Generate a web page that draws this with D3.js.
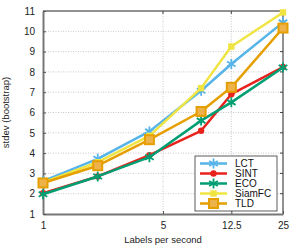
<!DOCTYPE html>
<html>
<head>
<meta charset="utf-8">
<script src="https://cdn.jsdelivr.net/npm/d3@7"></script>
<style>
  body { margin: 0; background: #fff; }
  text { font-family: "Liberation Sans", Arial, sans-serif; }
</style>
</head>
<body>
<div id="chart"></div>
<script>
// labels per second (25 fps divided by the label interval)
var labelRates = [25 / 25, 25 / 12, 25 / 6, 25 / 3, 25 / 2, 25 / 1];
var xTicks = [1, 5, 12.5, 25];
var yTicks = [1, 2, 3, 4, 5, 6, 7, 8, 9, 10, 11];

var trackers = ["LCT", "SINT", "ECO", "SiamFC", "TLD"];
var lctValues = [2.62, 3.72, 5.07, 7.07, 8.39, 10.44];
var sintValues = [2.02, 2.85, 3.9, 5.1, 6.9, 8.24];
var ecoValues = [1.97, 2.85, 3.8, 5.6, 6.5, 8.22];
var siamValues = [2.55, 3.55, 4.85, 7.2, 9.25, 10.93];
var tldValues = [2.53, 3.38, 4.66, 6.05, 7.24, 10.16];

var colors = ["#56B4E9", "#E8221C", "#009E73", "#F0E442", "#E69F00"];

var series = [lctValues, sintValues, ecoValues, siamValues, tldValues].map(function(v, i) {
    return { name: trackers[i], color: colors[i], values: v };
});

var width = 300, height = 247;
var margin = { top: 11, right: 17, bottom: 33, left: 43 };
var innerW = width - margin.left - margin.right;
var innerH = height - margin.top - margin.bottom;

var svg = d3.select("#chart").append("svg")
    .attr("width", width)
    .attr("height", height);

var g = svg.append("g").attr("transform", "translate(" + margin.left + "," + margin.top + ")");

var x = d3.scaleLog().domain([1, 25]).range([0, innerW]);
var y = d3.scaleLinear().domain([1, 11]).range([innerH, 0]);

// dotted grid
g.selectAll(".hgrid").data(yTicks.slice(1, -1)).enter().append("line")
    .attr("x1", 0).attr("x2", innerW)
    .attr("y1", function(d) { return y(d); }).attr("y2", function(d) { return y(d); })
    .attr("stroke", "#bbb").attr("stroke-width", 0.8).attr("stroke-dasharray", "1,1.5");
g.selectAll(".vgrid").data(xTicks.slice(1, -1)).enter().append("line")
    .attr("y1", 0).attr("y2", innerH)
    .attr("x1", function(d) { return x(d); }).attr("x2", function(d) { return x(d); })
    .attr("stroke", "#bbb").attr("stroke-width", 0.8).attr("stroke-dasharray", "1,1.5");

// box: top and right thin black
g.append("line").attr("x1", 0).attr("x2", innerW).attr("y1", 0).attr("y2", 0)
    .attr("stroke", "#222").attr("stroke-width", 1);
g.append("line").attr("x1", innerW).attr("x2", innerW).attr("y1", 0).attr("y2", innerH)
    .attr("stroke", "#222").attr("stroke-width", 1);

// inner ticks on top and right
g.selectAll(".ttick").data(xTicks.slice(1, -1)).enter().append("line")
    .attr("x1", function(d) { return x(d); }).attr("x2", function(d) { return x(d); })
    .attr("y1", 0).attr("y2", 3).attr("stroke", "#444");
g.selectAll(".rtick").data(yTicks.slice(1, -1)).enter().append("line")
    .attr("y1", function(d) { return y(d); }).attr("y2", function(d) { return y(d); })
    .attr("x1", innerW).attr("x2", innerW - 3).attr("stroke", "#444");

// bottom axis
var xAxis = g.append("g")
    .attr("transform", "translate(0," + innerH + ")")
    .call(d3.axisBottom(x).tickValues(xTicks).tickFormat(function(d) { return String(d); }).tickSizeInner(-3).tickSizeOuter(0).tickPadding(8));
xAxis.select(".domain").attr("stroke", "#777").attr("stroke-width", 2);
xAxis.selectAll(".tick line").attr("stroke", "#555");
xAxis.selectAll("text").attr("font-size", 10).attr("fill", "#222")
    .attr("font-family", "Liberation Sans, Arial, sans-serif");

// left axis
var yAxis = g.append("g")
    .call(d3.axisLeft(y).tickValues(yTicks).tickSizeInner(-3).tickSizeOuter(0).tickPadding(8));
yAxis.select(".domain").attr("stroke", "#777").attr("stroke-width", 2);
yAxis.selectAll(".tick line").attr("stroke", "#555");
yAxis.selectAll("text").attr("font-size", 10).attr("fill", "#222")
    .attr("font-family", "Liberation Sans, Arial, sans-serif");

// axis titles
svg.append("text")
    .attr("x", margin.left + innerW / 2).attr("y", 243)
    .attr("text-anchor", "middle").attr("font-size", 9.5).attr("fill", "#222")
    .text("Labels per second");
svg.append("text")
    .attr("transform", "translate(9," + (margin.top + innerH / 2) + ") rotate(-90)")
    .attr("text-anchor", "middle").attr("font-size", 9.5).attr("fill", "#222")
    .text("stdev (bootstrap)");

var line = d3.line()
    .x(function(d, i) { return x(labelRates[i]); })
    .y(function(d) { return y(d); });

// marker drawer per tracker
function drawMarker(sel, name, color) {
    if (name === "LCT" || name === "ECO") {
        sel.append("path").attr("d", d3.symbol(d3.symbolAsterisk, 70)())
            .attr("fill", "none").attr("stroke", color).attr("stroke-width", 1.8);
    } else if (name === "SINT") {
        sel.append("circle").attr("r", 3.2).attr("fill", color);
    } else if (name === "SiamFC") {
        sel.append("rect").attr("x", -3.2).attr("y", -3.2).attr("width", 6.4).attr("height", 6.4).attr("fill", color);
    } else {
        sel.append("rect").attr("x", -4.5).attr("y", -4.5).attr("width", 9).attr("height", 9)
            .attr("fill", "#EDB24A").attr("stroke", color).attr("stroke-width", 2);
    }
}

series.forEach(function(s) {
    g.append("path").datum(s.values)
        .attr("d", line)
        .attr("fill", "none")
        .attr("stroke", s.color)
        .attr("stroke-width", 2.5)
        .attr("stroke-linejoin", "round");
    s.values.forEach(function(v, i) {
        var m = g.append("g").attr("transform", "translate(" + x(labelRates[i]) + "," + y(v) + ")");
        drawMarker(m, s.name, s.color);
    });
});

// legend
var legend = svg.append("g").attr("transform", "translate(195,156)");
legend.append("rect").attr("width", 82).attr("height", 55)
    .attr("fill", "#fff").attr("stroke", "#333").attr("stroke-width", 0.8);
series.forEach(function(s, i) {
    var row = legend.append("g").attr("transform", "translate(0," + (7.5 + i * 10) + ")");
    row.append("line").attr("x1", 5).attr("x2", 32).attr("y1", 0).attr("y2", 0)
        .attr("stroke", s.color).attr("stroke-width", 2.5);
    var m = row.append("g").attr("transform", "translate(18.5,0)");
    drawMarker(m, s.name, s.color);
    row.append("text").attr("x", 40).attr("y", 3.5)
        .attr("font-size", 10).attr("fill", "#111").text(s.name);
});
</script>
</body>
</html>
